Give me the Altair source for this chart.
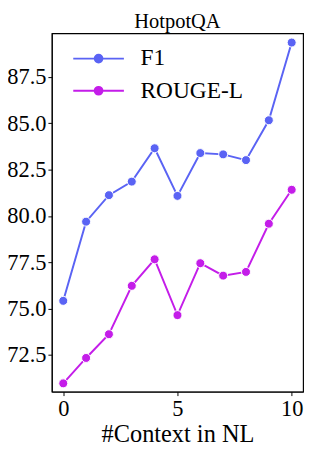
import altair as alt
import pandas as pd

contexts = [0, 1, 2, 3, 4, 5, 6, 7, 8, 9, 10]
f1 = [75.42, 79.69, 81.12, 81.85, 83.65, 81.08, 83.39, 83.32, 83.01, 85.16, 89.35]
rouge_l = [70.97, 72.34, 73.62, 76.23, 77.66, 74.65, 77.45, 76.78, 76.98, 79.58, 81.41]
series = ["F1", "ROUGE-L"]
colors = ["#5a63f4", "#c41de9"]
x_ticks = [0, 5, 10]
y_ticks = [72.5, 75.0, 77.5, 80.0, 82.5, 85.0, 87.5]

rows = []
for c, a, b in zip(contexts, f1, rouge_l):
    rows.append({"ctx": c, "metric": series[0], "value": a})
    rows.append({"ctx": c, "metric": series[1], "value": b})
df = pd.DataFrame(rows)

FONT = "'Times New Roman', 'Liberation Serif', 'DejaVu Serif', serif"
legend_symbol = ("M-2.6,0H-0.4M0.4,0H2.6"
                 "M0.4,0A0.4,0.4 0 1,1 -0.4,0A0.4,0.4 0 1,1 0.4,0")

x = alt.X("ctx:Q", title="#Context in NL",
          scale=alt.Scale(domain=[-0.5, 10.5], nice=False, zero=False),
          axis=alt.Axis(values=x_ticks, format="d", grid=False))
y = alt.Y("value:Q", title=None,
          scale=alt.Scale(domain=[70.52, 89.85], nice=False, zero=False),
          axis=alt.Axis(values=y_ticks, format=".1f", grid=False))
color = alt.Color("metric:N", title=None,
                  scale=alt.Scale(domain=series, range=colors),
                  legend=alt.Legend(orient="none", legendX=36, legendY=14,
                                    symbolType=legend_symbol, symbolSize=400,
                                    symbolStrokeWidth=2, labelOffset=31,
                                    labelFontSize=24, labelFont=FONT,
                                    labelColor="black", rowPadding=9,
                                    symbolFillColor=None))

lines = alt.Chart(df).mark_line(strokeWidth=2).encode(x=x, y=y, color=color)
points = alt.Chart(df).mark_point(filled=True, size=85, opacity=1,
                                  stroke="white", strokeWidth=1).encode(
    x=x, y=y, fill=alt.Fill("metric:N", scale=alt.Scale(domain=series, range=colors), legend=None))

chart = alt.layer(lines, points).properties(
    width=258, height=368,
    title=alt.TitleParams("HotpotQA", font=FONT, fontSize=21, fontWeight="normal",
                          color="black", offset=1),
    autosize=alt.AutoSizeParams(type="none"),
    padding={"left": 45, "top": 20, "right": 4, "bottom": 58},
).configure(font=FONT).configure_view(stroke="black", strokeWidth=1.2).configure_axis(
    labelFont=FONT, titleFont=FONT, labelFontSize=23, titleFontSize=25,
    labelColor="black", titleColor="black", titleFontWeight="normal",
    domainColor="black", tickColor="black", tickSize=4, labelPadding=2,
    titlePadding=2, domain=True,
)

chart.save("out.html", embed_options={"renderer": "svg", "actions": False})
